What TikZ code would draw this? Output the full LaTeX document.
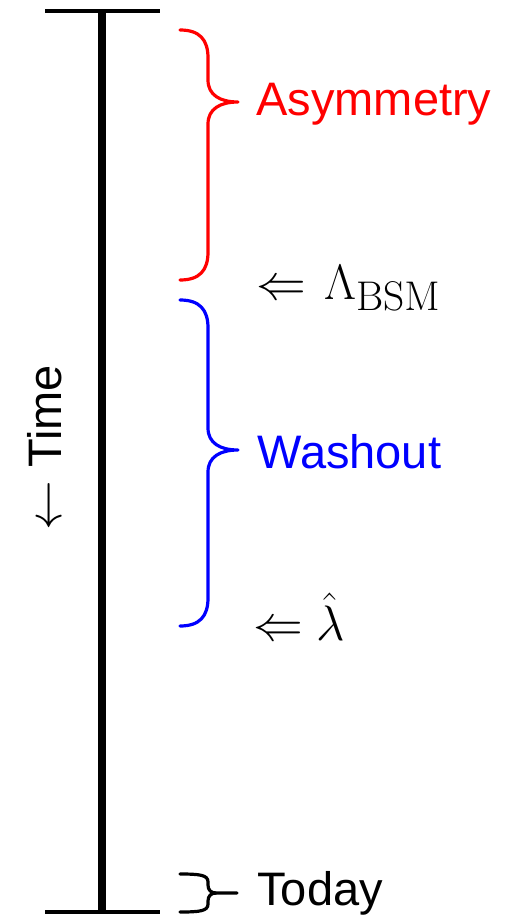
\documentclass[tikz,border=0pt]{standalone}
\usepackage[no-math]{fontspec}
\setmainfont{Liberation Sans}
\DeclareMathSizes{24}{24}{19.3}{15}
\DeclareMathSizes{26}{26}{20}{16}
\newcommand{\bigLarrow}{{\fontsize{26}{30}\selectfont$\Leftarrow$}}
\begin{document}
\begin{tikzpicture}[x=0.5pt,y=-0.5pt,
  lbl/.style={anchor=west,inner sep=0pt,font=\fontsize{23.5}{28}\selectfont},
  mlbl/.style={anchor=west,inner sep=0pt,font=\fontsize{24}{28}\selectfont},
  brc/.style={line width=1.6pt,line cap=round,line join=round},
  tick/.style={line width=2pt}]
\useasboundingbox (0,0) rectangle (507,915);
% axis
\coordinate (top) at (102,11);
\coordinate (bot) at (102,912);
\coordinate (tl) at (45,11);
\coordinate (tr) at (160,11);
\coordinate (bl) at (45,912);
\coordinate (br) at (160,912);
\draw[line width=4pt] (top) -- (bot);
\draw[tick] (tl) -- (tr);
\draw[tick] (bl) -- (br);
% red brace
\draw[brc,red] (180,30) .. controls (200,30) and (208,40) .. (208,58) -- (208,80)
  .. controls (208,95) and (220,102) .. (238,102)
  .. controls (220,102) and (208,109) .. (208,124) -- (208,252)
  .. controls (208,270) and (200,280) .. (180,280);
% blue brace
\draw[brc,blue] (180,300) .. controls (200,300) and (208,310) .. (208,328) -- (208,428)
  .. controls (208,443) and (220,450) .. (238,450)
  .. controls (220,450) and (208,457) .. (208,472) -- (208,598)
  .. controls (208,616) and (200,626) .. (180,626);
% today brace
\draw[brc,black] (180,874) .. controls (200,874) and (208,875) .. (208,882) -- (208,885)
  .. controls (208,890) and (211,893) .. (216,893) -- (237,893);
\draw[brc,black] (216,893) .. controls (211,893) and (208,896) .. (208,901) -- (208,904)
  .. controls (208,911) and (200,912) .. (180,912);
% labels
\node[lbl,text=red] (asym) at (256,104) {Asymmetry};
\node[mlbl] (lbsm) at (256,288) {\bigLarrow\hspace{9pt}$\Lambda_{\mathrm{BSM}}$};
\node[mlbl] (lhat) at (253,617) {\bigLarrow\hspace{6.5pt}$\hat{\lambda}$};
\node[lbl,text=blue] (wash) at (257,452) {Washout};
\node[lbl] (today) at (257,893) {Today};
\node[lbl,anchor=center,rotate=90] (time) at (45,448) {$\leftarrow$ Time};
\end{tikzpicture}
\end{document}
